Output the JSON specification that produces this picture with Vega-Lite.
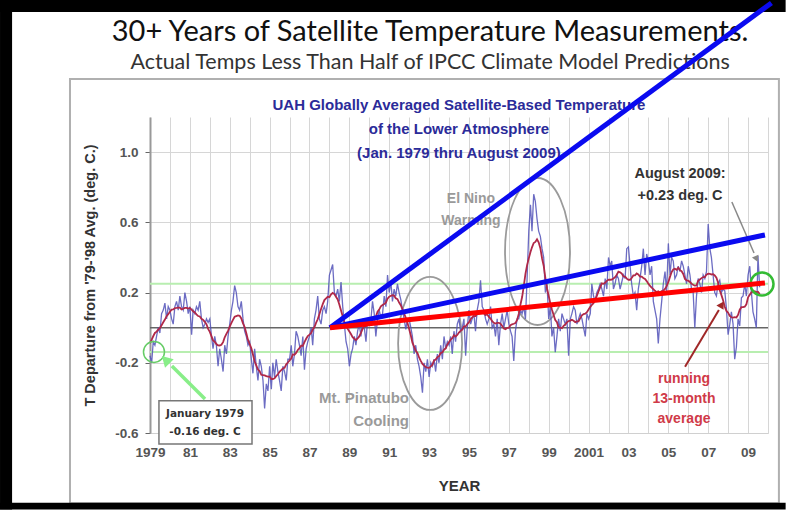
{
"$schema": "https://vega.github.io/schema/vega-lite/v6.json",
"width": 618, "height": 316,
"autosize": {"type": "none"},
"padding": {"left": 150, "top": 117, "right": 18, "bottom": 77},
"background": "white",
"config": {"view": {"stroke": null}, "font": "Liberation Sans"},
"datasets": {"one": [{}], "uah": [
{"d":"1979-01","v":-0.16},{"d":"1979-02","v":-0.20},{"d":"1979-03","v":-0.08},{"d":"1979-04","v":-0.10},{"d":"1979-05","v":-0.05},{"d":"1979-06","v":0.00},{"d":"1979-07","v":-0.03},{"d":"1979-08","v":0.08},{"d":"1979-09","v":0.10},{"d":"1979-10","v":0.14},{"d":"1979-11","v":0.05},{"d":"1979-12","v":0.12},
{"d":"1980-01","v":0.10},{"d":"1980-02","v":0.05},{"d":"1980-03","v":0.02},{"d":"1980-04","v":0.12},{"d":"1980-05","v":0.15},{"d":"1980-06","v":0.10},{"d":"1980-07","v":0.18},{"d":"1980-08","v":0.12},{"d":"1980-09","v":0.10},{"d":"1980-10","v":0.20},{"d":"1980-11","v":0.15},{"d":"1980-12","v":0.08},
{"d":"1981-01","v":0.12},{"d":"1981-02","v":-0.04},{"d":"1981-03","v":0.10},{"d":"1981-04","v":0.08},{"d":"1981-05","v":0.12},{"d":"1981-06","v":0.10},{"d":"1981-07","v":0.15},{"d":"1981-08","v":0.05},{"d":"1981-09","v":0.00},{"d":"1981-10","v":0.02},{"d":"1981-11","v":0.05},{"d":"1981-12","v":0.03},
{"d":"1982-01","v":0.05},{"d":"1982-02","v":-0.05},{"d":"1982-03","v":-0.12},{"d":"1982-04","v":-0.05},{"d":"1982-05","v":-0.10},{"d":"1982-06","v":-0.22},{"d":"1982-07","v":-0.12},{"d":"1982-08","v":-0.18},{"d":"1982-09","v":-0.25},{"d":"1982-10","v":-0.10},{"d":"1982-11","v":-0.15},{"d":"1982-12","v":-0.05},
{"d":"1983-01","v":0.02},{"d":"1983-02","v":0.10},{"d":"1983-03","v":0.15},{"d":"1983-04","v":0.24},{"d":"1983-05","v":0.20},{"d":"1983-06","v":0.12},{"d":"1983-07","v":0.10},{"d":"1983-08","v":0.15},{"d":"1983-09","v":0.05},{"d":"1983-10","v":-0.02},{"d":"1983-11","v":-0.05},{"d":"1983-12","v":-0.10},
{"d":"1984-01","v":-0.08},{"d":"1984-02","v":-0.18},{"d":"1984-03","v":-0.26},{"d":"1984-04","v":-0.12},{"d":"1984-05","v":-0.22},{"d":"1984-06","v":-0.30},{"d":"1984-07","v":-0.18},{"d":"1984-08","v":-0.22},{"d":"1984-09","v":-0.30},{"d":"1984-10","v":-0.46},{"d":"1984-11","v":-0.32},{"d":"1984-12","v":-0.36},
{"d":"1985-01","v":-0.22},{"d":"1985-02","v":-0.35},{"d":"1985-03","v":-0.20},{"d":"1985-04","v":-0.28},{"d":"1985-05","v":-0.18},{"d":"1985-06","v":-0.25},{"d":"1985-07","v":-0.30},{"d":"1985-08","v":-0.36},{"d":"1985-09","v":-0.22},{"d":"1985-10","v":-0.25},{"d":"1985-11","v":-0.30},{"d":"1985-12","v":-0.18},
{"d":"1986-01","v":-0.18},{"d":"1986-02","v":-0.10},{"d":"1986-03","v":-0.22},{"d":"1986-04","v":-0.15},{"d":"1986-05","v":-0.02},{"d":"1986-06","v":-0.05},{"d":"1986-07","v":-0.10},{"d":"1986-08","v":-0.16},{"d":"1986-09","v":-0.05},{"d":"1986-10","v":-0.24},{"d":"1986-11","v":-0.12},{"d":"1986-12","v":-0.08},
{"d":"1987-01","v":-0.05},{"d":"1987-02","v":0.00},{"d":"1987-03","v":-0.10},{"d":"1987-04","v":0.05},{"d":"1987-05","v":0.10},{"d":"1987-06","v":0.18},{"d":"1987-07","v":0.05},{"d":"1987-08","v":0.02},{"d":"1987-09","v":0.10},{"d":"1987-10","v":0.12},{"d":"1987-11","v":0.08},{"d":"1987-12","v":0.15},
{"d":"1988-01","v":0.30},{"d":"1988-02","v":0.33},{"d":"1988-03","v":0.36},{"d":"1988-04","v":0.20},{"d":"1988-05","v":0.18},{"d":"1988-06","v":0.22},{"d":"1988-07","v":0.15},{"d":"1988-08","v":0.26},{"d":"1988-09","v":0.12},{"d":"1988-10","v":0.02},{"d":"1988-11","v":-0.08},{"d":"1988-12","v":-0.12},
{"d":"1989-01","v":-0.22},{"d":"1989-02","v":-0.15},{"d":"1989-03","v":-0.12},{"d":"1989-04","v":-0.05},{"d":"1989-05","v":-0.10},{"d":"1989-06","v":-0.02},{"d":"1989-07","v":0.02},{"d":"1989-08","v":-0.05},{"d":"1989-09","v":0.05},{"d":"1989-10","v":0.00},{"d":"1989-11","v":-0.08},{"d":"1989-12","v":0.05},
{"d":"1990-01","v":0.02},{"d":"1990-02","v":0.05},{"d":"1990-03","v":0.15},{"d":"1990-04","v":0.08},{"d":"1990-05","v":-0.05},{"d":"1990-06","v":0.05},{"d":"1990-07","v":0.10},{"d":"1990-08","v":0.06},{"d":"1990-09","v":0.08},{"d":"1990-10","v":0.18},{"d":"1990-11","v":0.12},{"d":"1990-12","v":0.30},
{"d":"1991-01","v":0.20},{"d":"1991-02","v":0.26},{"d":"1991-03","v":0.15},{"d":"1991-04","v":0.22},{"d":"1991-05","v":0.18},{"d":"1991-06","v":0.25},{"d":"1991-07","v":0.20},{"d":"1991-08","v":0.16},{"d":"1991-09","v":0.10},{"d":"1991-10","v":0.05},{"d":"1991-11","v":-0.01},{"d":"1991-12","v":0.05},
{"d":"1992-01","v":0.05},{"d":"1992-02","v":0.00},{"d":"1992-03","v":-0.05},{"d":"1992-04","v":-0.15},{"d":"1992-05","v":-0.10},{"d":"1992-06","v":-0.18},{"d":"1992-07","v":-0.22},{"d":"1992-08","v":-0.28},{"d":"1992-09","v":-0.37},{"d":"1992-10","v":-0.20},{"d":"1992-11","v":-0.25},{"d":"1992-12","v":-0.18},
{"d":"1993-01","v":-0.28},{"d":"1993-02","v":-0.20},{"d":"1993-03","v":-0.22},{"d":"1993-04","v":-0.18},{"d":"1993-05","v":-0.25},{"d":"1993-06","v":-0.15},{"d":"1993-07","v":-0.20},{"d":"1993-08","v":-0.10},{"d":"1993-09","v":-0.18},{"d":"1993-10","v":-0.05},{"d":"1993-11","v":-0.12},{"d":"1993-12","v":-0.08},
{"d":"1994-01","v":-0.10},{"d":"1994-02","v":-0.05},{"d":"1994-03","v":-0.15},{"d":"1994-04","v":-0.02},{"d":"1994-05","v":-0.08},{"d":"1994-06","v":0.02},{"d":"1994-07","v":0.05},{"d":"1994-08","v":-0.02},{"d":"1994-09","v":0.00},{"d":"1994-10","v":0.05},{"d":"1994-11","v":-0.16},{"d":"1994-12","v":0.00},
{"d":"1995-01","v":0.10},{"d":"1995-02","v":0.02},{"d":"1995-03","v":0.05},{"d":"1995-04","v":0.08},{"d":"1995-05","v":-0.02},{"d":"1995-06","v":0.10},{"d":"1995-07","v":0.15},{"d":"1995-08","v":0.27},{"d":"1995-09","v":0.12},{"d":"1995-10","v":0.10},{"d":"1995-11","v":0.05},{"d":"1995-12","v":0.02},
{"d":"1996-01","v":0.05},{"d":"1996-02","v":0.12},{"d":"1996-03","v":0.00},{"d":"1996-04","v":0.02},{"d":"1996-05","v":-0.05},{"d":"1996-06","v":0.05},{"d":"1996-07","v":-0.10},{"d":"1996-08","v":0.02},{"d":"1996-09","v":0.08},{"d":"1996-10","v":0.00},{"d":"1996-11","v":0.05},{"d":"1996-12","v":0.10},
{"d":"1997-01","v":0.02},{"d":"1997-02","v":-0.02},{"d":"1997-03","v":-0.05},{"d":"1997-04","v":-0.19},{"d":"1997-05","v":-0.02},{"d":"1997-06","v":0.05},{"d":"1997-07","v":0.05},{"d":"1997-08","v":0.10},{"d":"1997-09","v":0.08},{"d":"1997-10","v":0.12},{"d":"1997-11","v":0.05},{"d":"1997-12","v":0.28},
{"d":"1998-01","v":0.55},{"d":"1998-02","v":0.70},{"d":"1998-03","v":0.55},{"d":"1998-04","v":0.76},{"d":"1998-05","v":0.72},{"d":"1998-06","v":0.62},{"d":"1998-07","v":0.55},{"d":"1998-08","v":0.52},{"d":"1998-09","v":0.45},{"d":"1998-10","v":0.40},{"d":"1998-11","v":0.20},{"d":"1998-12","v":0.25},
{"d":"1999-01","v":0.05},{"d":"1999-02","v":0.12},{"d":"1999-03","v":-0.05},{"d":"1999-04","v":0.00},{"d":"1999-05","v":-0.14},{"d":"1999-06","v":-0.05},{"d":"1999-07","v":0.05},{"d":"1999-08","v":-0.02},{"d":"1999-09","v":0.08},{"d":"1999-10","v":0.05},{"d":"1999-11","v":0.02},{"d":"1999-12","v":0.05},
{"d":"2000-01","v":-0.16},{"d":"2000-02","v":0.05},{"d":"2000-03","v":0.08},{"d":"2000-04","v":0.12},{"d":"2000-05","v":0.10},{"d":"2000-06","v":0.02},{"d":"2000-07","v":0.05},{"d":"2000-08","v":0.08},{"d":"2000-09","v":0.05},{"d":"2000-10","v":0.00},{"d":"2000-11","v":-0.05},{"d":"2000-12","v":0.08},
{"d":"2001-01","v":0.05},{"d":"2001-02","v":0.08},{"d":"2001-03","v":0.25},{"d":"2001-04","v":0.18},{"d":"2001-05","v":0.15},{"d":"2001-06","v":0.20},{"d":"2001-07","v":0.22},{"d":"2001-08","v":0.25},{"d":"2001-09","v":0.22},{"d":"2001-10","v":0.18},{"d":"2001-11","v":0.28},{"d":"2001-12","v":0.22},
{"d":"2002-01","v":0.40},{"d":"2002-02","v":0.35},{"d":"2002-03","v":0.38},{"d":"2002-04","v":0.22},{"d":"2002-05","v":0.25},{"d":"2002-06","v":0.30},{"d":"2002-07","v":0.28},{"d":"2002-08","v":0.22},{"d":"2002-09","v":0.26},{"d":"2002-10","v":0.30},{"d":"2002-11","v":0.28},{"d":"2002-12","v":0.45},
{"d":"2003-01","v":0.46},{"d":"2003-02","v":0.35},{"d":"2003-03","v":0.25},{"d":"2003-04","v":0.18},{"d":"2003-05","v":0.20},{"d":"2003-06","v":0.10},{"d":"2003-07","v":0.22},{"d":"2003-08","v":0.28},{"d":"2003-09","v":0.35},{"d":"2003-10","v":0.45},{"d":"2003-11","v":0.30},{"d":"2003-12","v":0.42},
{"d":"2004-01","v":0.38},{"d":"2004-02","v":0.30},{"d":"2004-03","v":0.35},{"d":"2004-04","v":0.15},{"d":"2004-05","v":0.10},{"d":"2004-06","v":0.05},{"d":"2004-07","v":-0.09},{"d":"2004-08","v":0.05},{"d":"2004-09","v":0.15},{"d":"2004-10","v":0.25},{"d":"2004-11","v":0.32},{"d":"2004-12","v":0.20},
{"d":"2005-01","v":0.48},{"d":"2005-02","v":0.30},{"d":"2005-03","v":0.40},{"d":"2005-04","v":0.38},{"d":"2005-05","v":0.28},{"d":"2005-06","v":0.30},{"d":"2005-07","v":0.35},{"d":"2005-08","v":0.32},{"d":"2005-09","v":0.38},{"d":"2005-10","v":0.35},{"d":"2005-11","v":0.30},{"d":"2005-12","v":0.25},
{"d":"2006-01","v":0.35},{"d":"2006-02","v":0.30},{"d":"2006-03","v":0.22},{"d":"2006-04","v":0.20},{"d":"2006-05","v":0.00},{"d":"2006-06","v":0.18},{"d":"2006-07","v":0.28},{"d":"2006-08","v":0.25},{"d":"2006-09","v":0.20},{"d":"2006-10","v":0.30},{"d":"2006-11","v":0.28},{"d":"2006-12","v":0.32},
{"d":"2007-01","v":0.59},{"d":"2007-02","v":0.45},{"d":"2007-03","v":0.40},{"d":"2007-04","v":0.30},{"d":"2007-05","v":0.20},{"d":"2007-06","v":0.18},{"d":"2007-07","v":0.25},{"d":"2007-08","v":0.27},{"d":"2007-09","v":0.20},{"d":"2007-10","v":0.22},{"d":"2007-11","v":0.21},{"d":"2007-12","v":0.11},
{"d":"2008-01","v":-0.04},{"d":"2008-02","v":0.02},{"d":"2008-03","v":0.09},{"d":"2008-04","v":0.02},{"d":"2008-05","v":-0.18},{"d":"2008-06","v":-0.11},{"d":"2008-07","v":0.05},{"d":"2008-08","v":0.01},{"d":"2008-09","v":0.17},{"d":"2008-10","v":0.18},{"d":"2008-11","v":0.25},{"d":"2008-12","v":0.18},
{"d":"2009-01","v":0.30},{"d":"2009-02","v":0.35},{"d":"2009-03","v":0.21},{"d":"2009-04","v":0.09},{"d":"2009-05","v":0.05},{"d":"2009-06","v":0.00},{"d":"2009-07","v":0.41},{"d":"2009-08","v":0.23}
]},
"layer": [
{"data": {"name": "one"}, "mark": {"type": "rect", "filled": false, "stroke": "#b0b0b0", "strokeWidth": 2},
 "encoding": {"x": {"datum": {"year": 1974, "month": 12, "date": 27, "utc": true}, "type": "temporal"}, "x2": {"datum": {"year": 2010, "month": 7, "date": 20, "utc": true}}, "y": {"datum": 1.416}, "y2": {"datum": -1.0}}},
{"data": {"name": "one"}, "mark": {"type": "rect", "color": "black"},
 "encoding": {"x": {"datum": {"year": 1971, "month": 6, "date": 24, "utc": true}, "type": "temporal"}, "x2": {"datum": {"year": 2010, "month": 11, "date": 20, "utc": true}}, "y": {"datum": 1.866}, "y2": {"datum": 1.798}}},
{"data": {"name": "one"}, "mark": {"type": "rect", "color": "black"},
 "encoding": {"x": {"datum": {"year": 1971, "month": 6, "date": 24, "utc": true}, "type": "temporal"}, "x2": {"datum": {"year": 1972, "month": 1, "date": 31, "utc": true}}, "y": {"datum": 1.866}, "y2": {"datum": -1.036}}},
{"data": {"name": "one"}, "mark": {"type": "rect", "color": "black"},
 "encoding": {"x": {"datum": {"year": 1971, "month": 6, "date": 24, "utc": true}, "type": "temporal"}, "x2": {"datum": {"year": 2010, "month": 11, "date": 20, "utc": true}}, "y": {"datum": -0.998}, "y2": {"datum": -1.036}}},
{"data": {"name": "one"}, "mark": {"type": "text", "text": "30+ Years of Satellite Temperature Measurements.", "font": "Lato", "fontSize": 29, "color": "#111", "align": "center", "baseline": "middle"},
 "encoding": {"x": {"datum": {"year": 1993, "month": 1, "date": 18, "utc": true}, "type": "temporal"}, "y": {"datum": 1.686}}},
{"data": {"name": "one"}, "mark": {"type": "text", "text": "Actual Temps Less Than Half of IPCC Climate Model Predictions", "font": "Lato", "fontSize": 21.5, "color": "#333", "align": "center", "baseline": "middle"},
 "encoding": {"x": {"datum": {"year": 1993, "month": 1, "date": 18, "utc": true}, "type": "temporal"}, "y": {"datum": 1.506}}},
{"data": {"name": "one"}, "mark": {"type": "rule", "color": "#b8eeb0", "strokeWidth": 2}, "encoding": {"y": {"datum": 0.25}}},
{"data": {"name": "one"}, "mark": {"type": "rule", "color": "#b8eeb0", "strokeWidth": 2}, "encoding": {"y": {"datum": -0.139}}},
{"data": {"name": "one"}, "mark": {"type": "rule", "color": "#666", "strokeWidth": 1.5}, "encoding": {"y": {"datum": 0}}},
{"data": {"name": "one"}, "mark": {"type": "point", "shape": "M -0.442 0 A 0.442 1 0 1 0 0.442 0 A 0.442 1 0 1 0 -0.442 0 Z", "size": 21609, "filled": false, "stroke": "#9a9a9a", "strokeWidth": 1.8, "opacity": 1},
 "encoding": {"x": {"datum": {"year": 1998, "month": 6, "date": 10, "utc": true}, "type": "temporal"}, "y": {"datum": 0.434}}},
{"data": {"name": "one"}, "mark": {"type": "point", "shape": "M -0.481 0 A 0.481 1 0 1 0 0.481 0 A 0.481 1 0 1 0 -0.481 0 Z", "size": 17689, "filled": false, "stroke": "#9a9a9a", "strokeWidth": 1.8, "opacity": 1},
 "encoding": {"x": {"datum": {"year": 1993, "month": 1, "date": 19, "utc": true}, "type": "temporal"}, "y": {"datum": -0.09}}},
{"data": {"name": "uah"},
 "mark": {"type": "line", "color": "#5252b8", "strokeWidth": 1.3, "opacity": 0.85},
 "encoding": {
  "x": {"field": "d", "type": "temporal",
    "scale": {"type": "utc", "domain": [{"year": 1979, "month": 1, "date": 1, "utc": true}, {"year": 2010, "month": 1, "date": 1, "utc": true}], "nice": false},
    "axis": {"title": "YEAR", "grid": true, "tickCount": {"interval": "year", "step": 1}, "labelExpr": "utcyear(datum.value) % 2 == 0 ? '' : ((utcyear(datum.value) == 1979 || utcyear(datum.value) == 2001) ? utcFormat(datum.value, '%Y') : utcFormat(datum.value, '%y'))", "labelOverlap": false, "labelFlush": false, "labelFont": "Liberation Sans", "labelFontSize": 13.5, "labelFontWeight": "bold", "labelColor": "#555", "labelPadding": 12, "ticks": false, "tickSize": 0, "domainColor": "#d0d0d0", "gridColor": "#d6d6d6", "titleFont": "Liberation Sans", "titleFontSize": 15, "titleFontWeight": "bold", "titleColor": "#333", "titlePadding": 20}},
  "y": {"field": "v", "type": "quantitative",
    "scale": {"domain": [-0.6, 1.2], "nice": false, "zero": false},
    "axis": {"title": "T Departure from '79-'98 Avg. (deg. C.)", "grid": true, "values": [-0.6, -0.4, -0.2, 0, 0.2, 0.4, 0.6, 0.8, 1.0, 1.2], "labelOverlap": false, "labelExpr": "(datum.value < -0.001 ? '-' : '') + format(abs(datum.value), '.1f')", "labelFont": "Liberation Sans", "labelFontSize": 13.5, "labelFontWeight": "bold", "labelColor": "#555", "labelPadding": 7, "tickSize": 5, "tickColor": "#666", "domainColor": "#999", "domainWidth": 2, "gridColor": "#d6d6d6", "titleFont": "Liberation Sans", "titleFontSize": 14.5, "titleFontWeight": "bold", "titleColor": "#333", "titlePadding": 17}}
 }},
{"data": {"name": "uah"},
 "transform": [{"window": [{"op": "mean", "field": "v", "as": "a"}], "frame": [-6, 6], "sort": [{"field": "d"}]}],
 "mark": {"type": "line", "color": "#b02848", "strokeWidth": 1.8},
 "encoding": {"x": {"field": "d", "type": "temporal"}, "y": {"field": "a", "type": "quantitative"}}},
{"data": {"name": "one"}, "mark": {"type": "point", "shape": "circle", "size": 441, "filled": false, "stroke": "#66cc66", "strokeWidth": 1.5, "opacity": 1},
 "encoding": {"x": {"datum": {"year": 1979, "month": 3, "date": 15, "utc": true}, "type": "temporal"}, "y": {"datum": -0.138}}},
{"data": {"name": "one"}, "mark": {"type": "point", "shape": "circle", "size": 529, "filled": false, "stroke": "#33bb33", "strokeWidth": 2.5, "opacity": 1},
 "encoding": {"x": {"datum": {"year": 2009, "month": 9, "date": 13, "utc": true}, "type": "temporal"}, "y": {"datum": 0.249}}},
{"data": {"name": "one"}, "mark": {"type": "rect", "fill": "white", "stroke": "#777", "strokeWidth": 1.5},
 "encoding": {"x": {"datum": {"year": 1979, "month": 6, "date": 14, "utc": true}, "type": "temporal"}, "x2": {"datum": {"year": 1984, "month": 2, "date": 13, "utc": true}}, "y": {"datum": -0.416}, "y2": {"datum": -0.662}}},
{"data": {"name": "one"}, "mark": {"type": "text", "text": ["January 1979", "-0.16 deg. C"], "font": "DejaVu Sans", "fontWeight": "bold", "fontSize": 10.5, "color": "#333", "align": "center", "baseline": "top", "lineHeight": 18},
 "encoding": {"x": {"datum": {"year": 1981, "month": 10, "date": 5, "utc": true}, "type": "temporal"}, "y": {"datum": -0.466}}},
{"data": {"name": "one"}, "mark": {"type": "text", "text": ["El Nino", "Warming"], "font": "Liberation Sans", "fontWeight": "bold", "fontSize": 14, "color": "#9a9a9a", "align": "center", "baseline": "top", "lineHeight": 22},
 "encoding": {"x": {"datum": {"year": 1995, "month": 2, "date": 6, "utc": true}, "type": "temporal"}, "y": {"datum": 0.773}}},
{"data": {"name": "one"}, "mark": {"type": "text", "text": ["Mt. Pinatubo", "Cooling"], "font": "Liberation Sans", "fontWeight": "bold", "fontSize": 15, "color": "#9a9a9a", "align": "right", "baseline": "top", "lineHeight": 23},
 "encoding": {"x": {"datum": {"year": 1991, "month": 12, "date": 29, "utc": true}, "type": "temporal"}, "y": {"datum": -0.358}}},
{"data": {"name": "one"}, "mark": {"type": "text", "text": ["August 2009:", "+0.23 deg. C"], "font": "Liberation Sans", "fontWeight": "bold", "fontSize": 14.5, "color": "#333", "align": "center", "baseline": "top", "lineHeight": 22.5},
 "encoding": {"x": {"datum": {"year": 2005, "month": 8, "date": 4, "utc": true}, "type": "temporal"}, "y": {"datum": 0.918}}},
{"data": {"name": "one"}, "mark": {"type": "text", "text": ["running", "13-month", "average"], "font": "Liberation Sans", "fontWeight": "bold", "fontSize": 14, "color": "#d03a48", "align": "center", "baseline": "top", "lineHeight": 20},
 "encoding": {"x": {"datum": {"year": 2005, "month": 10, "date": 15, "utc": true}, "type": "temporal"}, "y": {"datum": -0.252}}},
{"data": {"name": "one"}, "mark": {"type": "text", "text": ["UAH Globally Averaged Satellite-Based Temperature", "of the Lower Atmosphere", "(Jan. 1979  thru August 2009)"], "font": "Liberation Sans", "fontWeight": "bold", "fontSize": 15, "color": "#2b2b99", "align": "center", "baseline": "top", "lineHeight": 24},
 "encoding": {"x": {"datum": {"year": 1994, "month": 7, "date": 1, "utc": true}, "type": "temporal"}, "y": {"datum": 1.311}}},
{"data": {"name": "one"}, "mark": {"type": "rule", "color": "#88ee88", "strokeWidth": 3.5},
 "encoding": {"x": {"datum": {"year": 1981, "month": 10, "date": 5, "utc": true}, "type": "temporal"}, "x2": {"datum": {"year": 1980, "month": 2, "date": 6, "utc": true}}, "y": {"datum": -0.406}, "y2": {"datum": -0.218}}},
{"data": {"name": "one"}, "mark": {"type": "point", "shape": "triangle", "size": 150, "filled": true, "color": "#88ee88", "angle": 315, "opacity": 1},
 "encoding": {"x": {"datum": {"year": 1979, "month": 11, "date": 6, "utc": true}, "type": "temporal"}, "y": {"datum": -0.19}}},
{"data": {"name": "one"}, "mark": {"type": "rule", "color": "#a02828", "strokeWidth": 2},
 "encoding": {"x": {"datum": {"year": 2005, "month": 11, "date": 3, "utc": true}, "type": "temporal"}, "x2": {"datum": {"year": 2007, "month": 7, "date": 16, "utc": true}}, "y": {"datum": -0.222}, "y2": {"datum": 0.101}}},
{"data": {"name": "one"}, "mark": {"type": "point", "shape": "triangle", "size": 70, "filled": true, "color": "#a02828", "angle": 31, "opacity": 1},
 "encoding": {"x": {"datum": {"year": 2007, "month": 8, "date": 28, "utc": true}, "type": "temporal"}, "y": {"datum": 0.126}}},
{"data": {"name": "one"}, "mark": {"type": "rule", "color": "#888", "strokeWidth": 1.5},
 "encoding": {"x": {"datum": {"year": 2008, "month": 3, "date": 10, "utc": true}, "type": "temporal"}, "x2": {"datum": {"year": 2009, "month": 4, "date": 20, "utc": true}}, "y": {"datum": 0.716}, "y2": {"datum": 0.425}}},
{"data": {"name": "one"}, "mark": {"type": "point", "shape": "triangle", "size": 50, "filled": true, "color": "#888", "angle": 157, "opacity": 1},
 "encoding": {"x": {"datum": {"year": 2009, "month": 5, "date": 26, "utc": true}, "type": "temporal"}, "y": {"datum": 0.397}}},
{"data": {"name": "one"}, "mark": {"type": "rule", "color": "#0a0af0", "strokeWidth": 5},
 "encoding": {"x": {"datum": {"year": 1988, "month": 1, "date": 12, "utc": true}, "type": "temporal"}, "x2": {"datum": {"year": 2010, "month": 3, "date": 5, "utc": true}}, "y": {"datum": 0}, "y2": {"datum": 1.85}}},
{"data": {"name": "one"}, "mark": {"type": "rule", "color": "#0a0af0", "strokeWidth": 5},
 "encoding": {"x": {"datum": {"year": 1988, "month": 1, "date": 12, "utc": true}, "type": "temporal"}, "x2": {"datum": {"year": 2009, "month": 11, "date": 6, "utc": true}}, "y": {"datum": 0}, "y2": {"datum": 0.528}}},
{"data": {"name": "one"}, "mark": {"type": "rule", "color": "#ff0000", "strokeWidth": 5},
 "encoding": {"x": {"datum": {"year": 1988, "month": 1, "date": 12, "utc": true}, "type": "temporal"}, "x2": {"datum": {"year": 2009, "month": 11, "date": 6, "utc": true}}, "y": {"datum": 0}, "y2": {"datum": 0.255}}}
]
}
